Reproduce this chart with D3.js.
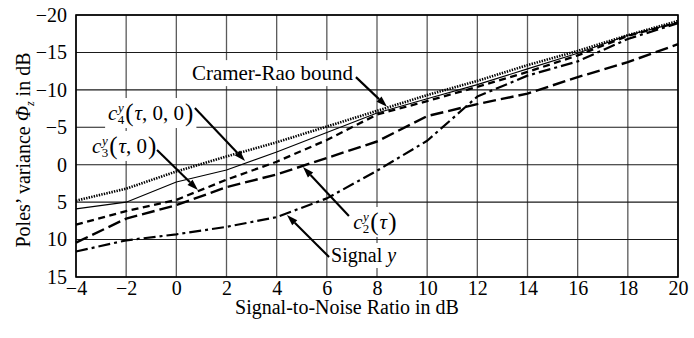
<!DOCTYPE html>
<html>
<head>
<meta charset="utf-8">
<script src="https://cdn.jsdelivr.net/npm/d3@7"></script>
<style>
  html, body { margin: 0; padding: 0; background: #fff; }
  svg { display: block; }
  text { font-family: "Liberation Serif", "Times New Roman", serif; fill: #000; }
</style>
</head>
<body>
<svg id="chart" width="694" height="338"></svg>
<script>
// ---- data ----
const snr = [-4, -2, 0, 2, 4, 6, 8, 10, 12, 14, 16, 18, 20];
const cramerRao = [4.8, 3.2, 0.9, -1.1, -3.0, -5.1, -7.2, -9.3, -11.2, -13.3, -15.2, -17.3, -19.2];
const c4 = [5.9, 5.0, 2.3, 0.7, -1.7, -4.3, -6.9, -8.8, -10.7, -12.8, -14.9, -17.3, -19.0];
const c3 = [8.0, 6.2, 4.7, 2.0, -0.4, -3.3, -6.7, -8.5, -10.4, -12.4, -14.6, -17.2, -19.0];
const c2 = [10.4, 7.2, 5.4, 3.0, 1.3, -0.9, -3.1, -6.5, -8.1, -9.5, -11.7, -13.7, -16.1];
const signalY = [11.6, 10.1, 9.3, 8.3, 7.0, 4.5, 0.8, -3.2, -9.1, -11.9, -13.8, -16.8, -18.9];

const xTicks = [-4, -2, 0, 2, 4, 6, 8, 10, 12, 14, 16, 18, 20];
const yTicks = [-20, -15, -10, -5, 0, 5, 10, 15];

const xTitle = "Signal-to-Noise Ratio in dB";

// annotation anchors (data units): label position, arrow start, arrow tip
const annotations = [
  {key: "crb", lx: 0.62, ly: -11.3, sx: 7.16, sy: -11.7, tx: 8.40, ty: -7.75},
  {key: "c4",  lx: -2.72, ly: -5.97, sx: 0.74, sy: -7.58, tx: 2.74, ty: -0.50},
  {key: "c3",  lx: -3.36, ly: -1.57, sx: -0.77, sy: -1.97, tx: 0.86, ty: 3.38},
  {key: "c2",  lx: 7.05, ly: 8.59, sx: 6.88, sy: 6.85, tx: 5.05, ty: 0.30},
  {key: "sig", lx: 6.17, ly: 13.0, sx: 6.09, sy: 12.33, tx: 4.41, ty: 6.72}
];

// ---- layout ----
const W = 694, H = 338;
const margin = {left: 76, right: 16, top: 15, bottom: 61};
const svg = d3.select("#chart");
const x = d3.scaleLinear().domain([-4, 20]).range([margin.left, W - margin.right]);
const y = d3.scaleLinear().domain([-20, 15]).range([margin.top, H - margin.bottom]);

// grid
const grid = svg.append("g");
grid.selectAll("line.v").data(xTicks).join("line")
  .attr("x1", d => x(d)).attr("x2", d => x(d))
  .attr("y1", y(-20)).attr("y2", y(15))
  .attr("stroke", "#5a5a5a").attr("stroke-width", 1.3);
grid.selectAll("line.h").data(yTicks).join("line")
  .attr("x1", x(-4)).attr("x2", x(20))
  .attr("y1", d => y(d)).attr("y2", d => y(d))
  .attr("stroke", "#1a1a1a").attr("stroke-width", 1.1);

const bgLayer = svg.append("g");   // white boxes behind labels
const frameLayer = svg.append("g");
const lineLayer = svg.append("g");
const labelLayer = svg.append("g");
const arrowLayer = svg.append("g");

// frame
frameLayer.append("rect")
  .attr("x", x(-4)).attr("y", y(-20))
  .attr("width", x(20) - x(-4)).attr("height", y(15) - y(-20))
  .attr("fill", "none").attr("stroke", "#000").attr("stroke-width", 1.6);

// axes (labels only)
const fmt = d3.format("");
const xAxis = svg.append("g")
  .attr("transform", `translate(0,${y(15)})`)
  .call(d3.axisBottom(x).tickValues(xTicks).tickSize(0).tickPadding(4).tickFormat(fmt));
const yAxis = svg.append("g")
  .attr("transform", `translate(${x(-4)},0)`)
  .call(d3.axisLeft(y).tickValues(yTicks).tickSize(0).tickPadding(9).tickFormat(fmt));
[xAxis, yAxis].forEach(a => {
  a.select(".domain").remove();
  a.attr("font-family", null).attr("font-size", null);
  a.selectAll("text").attr("font-family", "Liberation Serif, Times New Roman, serif")
    .attr("font-size", 20).attr("fill", "#000");
});

// titles
svg.append("text")
  .attr("x", W / 2).attr("y", 314)
  .attr("text-anchor", "middle").attr("font-size", 20)
  .text(xTitle);

const yt = svg.append("text")
  .attr("transform", `translate(30,${(y(-20) + y(15)) / 2 + 4}) rotate(-90)`)
  .attr("text-anchor", "middle").attr("font-size", 20);
yt.append("tspan").text("Poles\u2019 variance ");
yt.append("tspan").attr("font-style", "italic").text("\u03A6");
yt.append("tspan").attr("font-style", "italic").attr("font-size", 12).attr("dy", 4).text("z");
yt.append("tspan").attr("dy", -4).text(" in dB");

// series lines
const series = [
  {vals: cramerRao, width: 2.6, dash: "1.4,1.2"},
  {vals: c4, width: 1.1, dash: null},
  {vals: c3, width: 2.3, dash: "7,4.5"},
  {vals: c2, width: 2.4, dash: "13,5"},
  {vals: signalY, width: 2.2, dash: "12,4,3,4"}
];
const line = d3.line().x(d => x(d[0])).y(d => y(d[1]));
series.forEach(s => {
  lineLayer.append("path")
    .datum(snr.map((v, i) => [v, s.vals[i]]))
    .attr("d", line)
    .attr("fill", "none").attr("stroke", "#000")
    .attr("stroke-width", s.width)
    .attr("stroke-dasharray", s.dash)
    .attr("stroke-linejoin", "round");
});

// labels: one text element each, with stacked super/subscript via tspans
function mathLabel(g, sub, args) {
  const t = g.append("text").attr("x", 0).attr("y", 0).attr("font-size", 21);
  t.append("tspan").attr("font-style", "italic").text("c");
  t.append("tspan").attr("font-style", "italic").attr("font-size", 13)
    .attr("dx", 0.5).attr("dy", -8).text("y");
  t.append("tspan").attr("font-size", 13).attr("dx", -6).attr("dy", 12).text(sub);
  t.append("tspan").attr("font-size", 25).attr("dx", 1).attr("dy", -3).text("(");
  t.append("tspan").attr("font-style", "italic").attr("dx", 1).attr("dy", -1).text("\u03C4");
  t.append("tspan").text(args);
  t.append("tspan").attr("font-size", 25).attr("dx", 1).attr("dy", 1).text(")");
}

annotations.forEach(a => {
  const g = labelLayer.append("g")
    .attr("transform", `translate(${x(a.lx)},${y(a.ly)})`);
  if (a.key === "crb") {
    g.append("text").attr("font-size", 21).text("Cramer-Rao bound");
  } else if (a.key === "c4") {
    mathLabel(g, "4", ", 0, 0");
  } else if (a.key === "c3") {
    mathLabel(g, "3", ", 0");
  } else if (a.key === "c2") {
    mathLabel(g, "2", "");
  } else {
    const t = g.append("text").attr("font-size", 20);
    t.append("tspan").text("Signal ");
    t.append("tspan").attr("font-style", "italic").text("y");
  }
  const bb = g.node().getBBox();
  bgLayer.append("rect")
    .attr("x", x(a.lx) + bb.x - 3).attr("y", y(a.ly) + bb.y - 1)
    .attr("width", bb.width + 6).attr("height", bb.height + 2)
    .attr("fill", "#fff");
});

// arrows
annotations.forEach(a => {
  const x1 = x(a.sx), y1 = y(a.sy), x2 = x(a.tx), y2 = y(a.ty);
  const ang = Math.atan2(y2 - y1, x2 - x1);
  const L = 11, hw = 3.6;
  const bx = x2 - L * Math.cos(ang), by = y2 - L * Math.sin(ang);
  arrowLayer.append("line")
    .attr("x1", x1).attr("y1", y1).attr("x2", bx).attr("y2", by)
    .attr("stroke", "#000").attr("stroke-width", 2.1);
  const px = -Math.sin(ang) * hw, py = Math.cos(ang) * hw;
  arrowLayer.append("path")
    .attr("d", `M${x2},${y2}L${bx + px},${by + py}L${bx - px},${by - py}Z`)
    .attr("fill", "#000");
});
</script>
</body>
</html>
